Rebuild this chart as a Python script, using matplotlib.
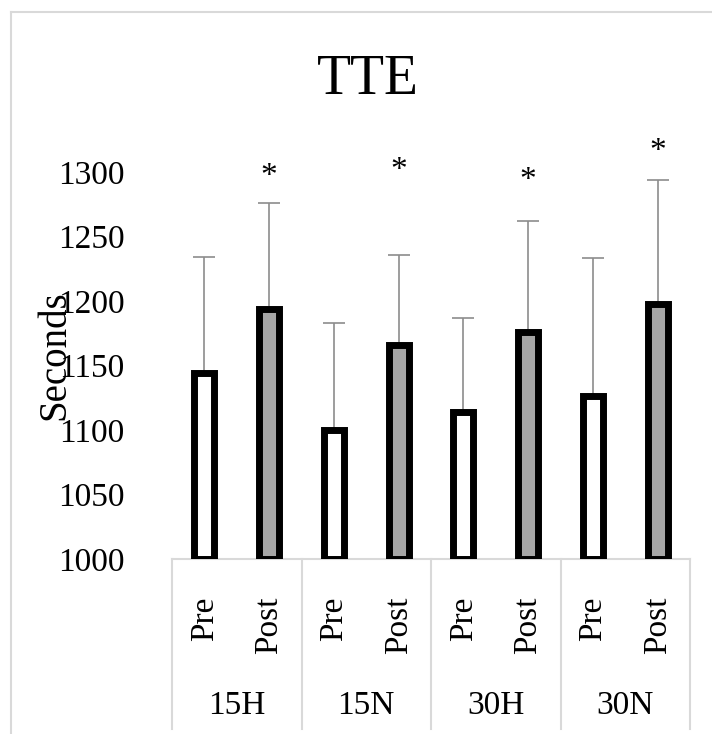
import numpy as np
import matplotlib.pyplot as plt
from matplotlib.lines import Line2D

plt.rcParams['font.family'] = ['Liberation Serif', 'DejaVu Serif']

# Данные
groups = ['15H', '15N', '30H', '30N']
phases = ['Pre', 'Post']
pre_means = [1144, 1100, 1114, 1126]
post_means = [1194, 1166, 1176, 1198]
pre_sd = [90, 83, 73, 107]
post_sd = [82, 70, 86, 96]
star_y = [1296, 1301, 1293, 1316]

means = [v for pair in zip(pre_means, post_means) for v in pair]
sds = [v for pair in zip(pre_sd, post_sd) for v in pair]
x = np.arange(len(means))
colors = ['white', '#a6a6a6'] * len(groups)
tick_labels = phases * len(groups)

W, H = 712, 734
fig = plt.figure(figsize=(W / 100, H / 100), dpi=100)
ax = fig.add_axes([172 / W, (H - 559) / H, 518 / W, 387 / H])

ax.bar(x, np.array(means) - 1000, bottom=1000, width=0.31, color=colors,
       edgecolor='black', linewidth=5, zorder=3)
ax.errorbar(x, means, yerr=[np.zeros(len(sds)), sds], fmt='none',
            ecolor='#8c8c8c', elinewidth=1.2, capsize=8, capthick=1.2, zorder=2)

# звёздочки над Post
for i, y in enumerate(star_y):
    ax.text(2 * i + 1, y, '*', ha='center', va='center', fontsize=24,
            clip_on=False)

ax.set_xlim(-0.5, len(means) - 0.5)
ax.set_ylim(1000, 1300)
ax.set_yticks(np.arange(1000, 1301, 50))
ax.tick_params(axis='y', length=0, pad=34, labelsize=24)
ax.set_xticks(x)
ax.set_xticklabels(tick_labels, rotation=90, fontsize=24)
ax.tick_params(axis='x', length=0, pad=27)
for s in ['top', 'right', 'left']:
    ax.spines[s].set_visible(False)
ax.spines['bottom'].set_color('#d9d9d9')
ax.spines['bottom'].set_linewidth(1.5)

# разделители групп и подписи групп
trans = ax.get_xaxis_transform()
for b in np.arange(-0.5, len(means), 2):
    ax.plot([b, b], [0, -0.44], color='#d9d9d9', linewidth=1.5,
            transform=trans, clip_on=False)
for i, g in enumerate(groups):
    ax.text(2 * i + 0.5, -0.38, g, transform=trans, ha='center', va='center',
            fontsize=24)

fig.text(55 / W, 1 - 355 / H, 'Seconds', rotation=90, ha='center',
         va='center', fontsize=28)
fig.text(368 / W, 1 - 80 / H, 'TTE', ha='center', va='center', fontsize=40)

# рамка
fig.add_artist(Line2D([11 / W, 11 / W], [0, 1 - 12 / H], color='#d9d9d9', linewidth=1.5))
fig.add_artist(Line2D([11 / W, 1], [1 - 12 / H, 1 - 12 / H], color='#d9d9d9', linewidth=1.5))

fig.savefig('out.png', dpi=100)
